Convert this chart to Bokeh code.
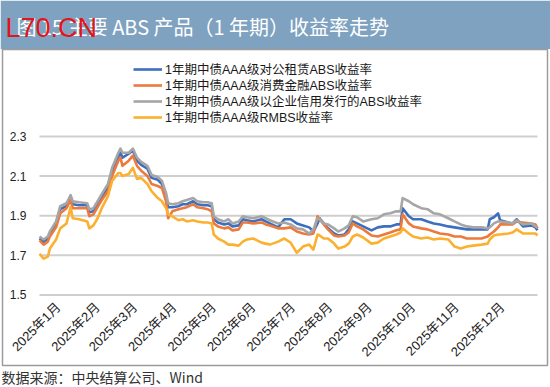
import math
from bokeh.plotting import figure
from bokeh.models import Range1d, FixedTicker, Legend, LegendItem
from bokeh.core.properties import value
from bokeh.embed import file_html
from bokeh.resources import INLINE

# ---------------- data ----------------
days = [0, 2, 4, 5, 8, 10, 13, 15, 16, 19, 23, 24, 26, 28, 30, 33, 35, 38, 39, 40,
        43, 45, 47, 49, 52, 54, 57, 59, 61, 62, 64, 67, 69, 71, 74, 76, 79, 81, 83, 84,
        86, 89, 91, 93, 96, 98, 100, 103, 107, 109, 111, 115, 118, 121, 124, 127, 130, 132, 134, 135,
        137, 139, 142, 144, 147, 149, 151, 153, 156, 160, 163, 166, 169, 172, 174, 175, 178, 180, 184, 187,
        190, 193, 197, 200, 203, 206, 209, 213, 216, 217, 219, 221, 222, 226, 228, 230, 233, 237, 239, 240]

lease_abs = [1.785, 1.769, 1.785, 1.810, 1.861, 1.933, 1.948, 1.989, 1.958, 1.953,
             1.953, 1.917, 1.922, 1.958, 1.994, 2.045, 2.127, 2.198, 2.218, 2.193,
             2.213, 2.229, 2.178, 2.157, 2.137, 2.091, 2.081, 2.060, 1.994, 1.943,
             1.943, 1.948, 1.958, 1.958, 1.973, 1.958, 1.953, 1.953, 1.948, 1.882,
             1.866, 1.856, 1.861, 1.846, 1.851, 1.882, 1.877, 1.871, 1.882, 1.871,
             1.861, 1.841, 1.882, 1.882, 1.861, 1.851, 1.841, 1.820, 1.861, 1.887,
             1.861, 1.836, 1.810, 1.800, 1.805, 1.831, 1.871, 1.861, 1.846, 1.826,
             1.841, 1.846, 1.846, 1.856, 1.856, 1.938, 1.897, 1.882, 1.882, 1.871,
             1.861, 1.856, 1.846, 1.841, 1.836, 1.831, 1.831, 1.831, 1.831, 1.882,
             1.892, 1.912, 1.877, 1.866, 1.861, 1.882, 1.846, 1.851, 1.841, 1.826]

consumer_abs = [1.775, 1.754, 1.769, 1.795, 1.841, 1.912, 1.938, 1.979, 1.938, 1.938,
                1.938, 1.897, 1.907, 1.943, 1.979, 2.024, 2.101, 2.178, 2.193, 2.152,
                2.178, 2.203, 2.152, 2.127, 2.101, 2.060, 2.050, 2.040, 1.973, 1.887,
                1.922, 1.933, 1.938, 1.943, 1.958, 1.943, 1.938, 1.933, 1.922, 1.861,
                1.846, 1.836, 1.841, 1.826, 1.831, 1.866, 1.866, 1.861, 1.866, 1.856,
                1.851, 1.836, 1.836, 1.841, 1.820, 1.810, 1.805, 1.810, 1.897, 1.882,
                1.856, 1.831, 1.800, 1.795, 1.800, 1.815, 1.861, 1.846, 1.831, 1.800,
                1.795, 1.805, 1.815, 1.826, 1.831, 1.907, 1.861, 1.846, 1.836, 1.831,
                1.820, 1.810, 1.805, 1.795, 1.795, 1.785, 1.785, 1.785, 1.795, 1.805,
                1.820, 1.841, 1.856, 1.856, 1.856, 1.871, 1.866, 1.861, 1.856, 1.836]

corporate_abs = [1.795, 1.780, 1.795, 1.820, 1.871, 1.948, 1.963, 2.004, 1.973, 1.968,
                 1.963, 1.933, 1.938, 1.973, 2.009, 2.060, 2.142, 2.218, 2.239, 2.218,
                 2.218, 2.239, 2.193, 2.172, 2.152, 2.106, 2.096, 2.076, 2.014, 1.963,
                 1.958, 1.963, 1.973, 1.979, 1.989, 1.973, 1.968, 1.968, 1.963, 1.897,
                 1.882, 1.871, 1.882, 1.861, 1.871, 1.897, 1.892, 1.887, 1.897, 1.887,
                 1.877, 1.861, 1.866, 1.856, 1.836, 1.831, 1.810, 1.831, 1.887, 1.882,
                 1.861, 1.856, 1.836, 1.820, 1.836, 1.851, 1.897, 1.892, 1.871, 1.882,
                 1.887, 1.907, 1.912, 1.922, 1.922, 1.989, 1.973, 1.958, 1.938, 1.933,
                 1.912, 1.907, 1.887, 1.871, 1.856, 1.846, 1.841, 1.841, 1.836, 1.841,
                 1.861, 1.871, 1.871, 1.866, 1.861, 1.877, 1.856, 1.861, 1.846, 1.841]

rmbs = [1.708, 1.683, 1.693, 1.734, 1.780, 1.836, 1.861, 1.943, 1.887, 1.882,
        1.871, 1.836, 1.851, 1.887, 1.938, 1.999, 2.076, 2.116, 2.116, 2.101,
        2.111, 2.142, 2.086, 2.091, 2.060, 2.024, 1.989, 1.973, 1.938, 1.907,
        1.897, 1.877, 1.882, 1.871, 1.877, 1.871, 1.866, 1.866, 1.861, 1.805,
        1.785, 1.769, 1.754, 1.754, 1.749, 1.769, 1.780, 1.785, 1.764, 1.759,
        1.754, 1.769, 1.785, 1.764, 1.713, 1.744, 1.754, 1.729, 1.805, 1.800,
        1.785, 1.785, 1.759, 1.734, 1.744, 1.759, 1.795, 1.805, 1.790, 1.759,
        1.764, 1.785, 1.795, 1.805, 1.815, 1.836, 1.810, 1.795, 1.785, 1.790,
        1.780, 1.785, 1.780, 1.744, 1.734, 1.744, 1.749, 1.754, 1.759, 1.780,
        1.800, 1.805, 1.805, 1.810, 1.815, 1.831, 1.810, 1.810, 1.810, 1.800]

series_names = ["1年期中债AAA级对公租赁ABS收益率",
                "1年期中债AAA级消费金融ABS收益率",
                "1年期中债AAA级以企业信用发行的ABS收益率",
                "1年期中债AAA级RMBS收益率"]

month_ticks = [9, 28, 46, 65, 84, 103, 122, 140, 159, 180, 201, 223]
month_labels = ["2025年1月", "2025年2月", "2025年3月", "2025年4月", "2025年5月", "2025年6月",
                "2025年7月", "2025年8月", "2025年9月", "2025年10月", "2025年11月", "2025年12月"]

y_ticks = [1.5, 1.7, 1.9, 2.1, 2.3]
y_tick_labels = ["1.5", "1.7", "1.9", "2.1", "2.3"]

title_text = "图 15  主要 ABS 产品（1 年期）收益率走势"
source_text = "数据来源：中央结算公司、Wind"
watermark_text = "L70.CN"

# ---------------- layout (canvas pixels) ----------------
W, H = 550, 387
X0_PX = 39.0          # canvas x of first data point
PX_PER_DAY = 2.075
Y23_PX = 136.0        # canvas y of the 2.3 gridline
PX_PER_UNIT = 198.0
LEGEND_ROWS_PX = [68.5, 84.5, 100.5, 116.5]   # centre of each legend row
LEGEND_ITEM_H = 19.0

x_range = Range1d(-X0_PX / PX_PER_DAY, (W - X0_PX) / PX_PER_DAY)
y_range = Range1d(2.3 - (H - Y23_PX) / PX_PER_UNIT, 2.3 + Y23_PX / PX_PER_UNIT)


def dx(c):
    return x_range.start + c / PX_PER_DAY


def dy(c):
    return y_range.end - c / PX_PER_UNIT


CJK = "Noto Sans CJK SC"
MIX = "Liberation Sans, Noto Sans CJK SC"

p = figure(width=W, height=H, x_range=x_range, y_range=y_range,
           output_backend="svg", toolbar_location=None,
           min_border=0, min_border_left=0, min_border_right=0,
           min_border_top=0, min_border_bottom=0,
           outline_line_color=None, background_fill_color="white",
           border_fill_color="white")
p.xgrid.visible = False
p.ygrid.visible = False

# title band
p.quad(left=[dx(0)], right=[dx(W)], top=[dy(0)], bottom=[dy(48.5)],
       fill_color="#7ea2bf", line_color=None)
p.text(x=[dx(16)], y=[dy(26)], text=[title_text], text_font=value(CJK),
       text_font_size="20px", text_color="white", text_baseline="middle")
p.text(x=[dx(5)], y=[dy(27.5)], text=[watermark_text], text_font=value("Liberation Sans"),
       text_font_size="27px", text_color="#e3151c", text_baseline="alphabetic")

# chart box
p.quad(left=[dx(2)], right=[dx(547)], top=[dy(49)], bottom=[dy(365)],
       fill_color=None, line_color="#9c9c9c", line_width=1.5)

# gridlines
p.segment(x0=[days[0]] * len(y_ticks), x1=[days[-1]] * len(y_ticks),
          y0=y_ticks, y1=y_ticks, line_color="#cfcfcf", line_width=2)

colors = ["#3d6fbf", "#ec7a3c", "#a6a6a6", "#fbb12f"]
data = [lease_abs, consumer_abs, corporate_abs, rmbs]
renderers = []
for vals, col in zip(data, colors):
    r = p.line(days, vals, line_color=col, line_width=2.6, line_join="round")
    renderers.append(r)

# legend: one single-item legend per row so the row pitch matches
for name, r, row in zip(series_names, renderers, LEGEND_ROWS_PX):
    lg = Legend(items=[LegendItem(label=name, renderers=[r])],
                location=(133, H - (row + LEGEND_ITEM_H / 2)), orientation="vertical",
                glyph_width=29, glyph_height=16, label_height=16, label_standoff=3,
                spacing=0, padding=0, margin=0, border_line_color=None,
                background_fill_alpha=0, label_text_font=MIX,
                label_text_font_size="12.5px", label_text_color="#1a1a1a")
    p.add_layout(lg)

# axes (placed inside the frame)
p.yaxis.fixed_location = days[0]
p.yaxis.ticker = FixedTicker(ticks=y_ticks)
p.yaxis.major_label_overrides = {t: s for t, s in zip(y_ticks, y_tick_labels)}
p.yaxis.axis_line_color = None
p.yaxis.major_tick_line_color = None
p.yaxis.minor_tick_line_color = None
p.yaxis.major_label_standoff = 7
p.yaxis.major_label_text_font = "Liberation Sans"
p.yaxis.major_label_text_font_size = "12px"
p.yaxis.major_label_text_color = "#222222"

p.xaxis.fixed_location = y_ticks[0]
p.xaxis.ticker = FixedTicker(ticks=month_ticks)
p.xaxis.major_label_overrides = {t: s for t, s in zip(month_ticks, month_labels)}
p.xaxis.major_label_orientation = math.pi / 4
p.xaxis.axis_line_color = None
p.xaxis.major_tick_line_color = None
p.xaxis.minor_tick_line_color = None
p.xaxis.major_label_standoff = 4
p.xaxis.major_label_text_font = MIX
p.xaxis.major_label_text_font_size = "13px"
p.xaxis.major_label_text_color = "#222222"

# source note
p.text(x=[dx(1)], y=[dy(376.5)], text=[source_text], text_font=value(CJK),
       text_font_size="14px", text_color="#333333", text_baseline="middle")

open("out.html", "w").write(file_html(p, INLINE))
